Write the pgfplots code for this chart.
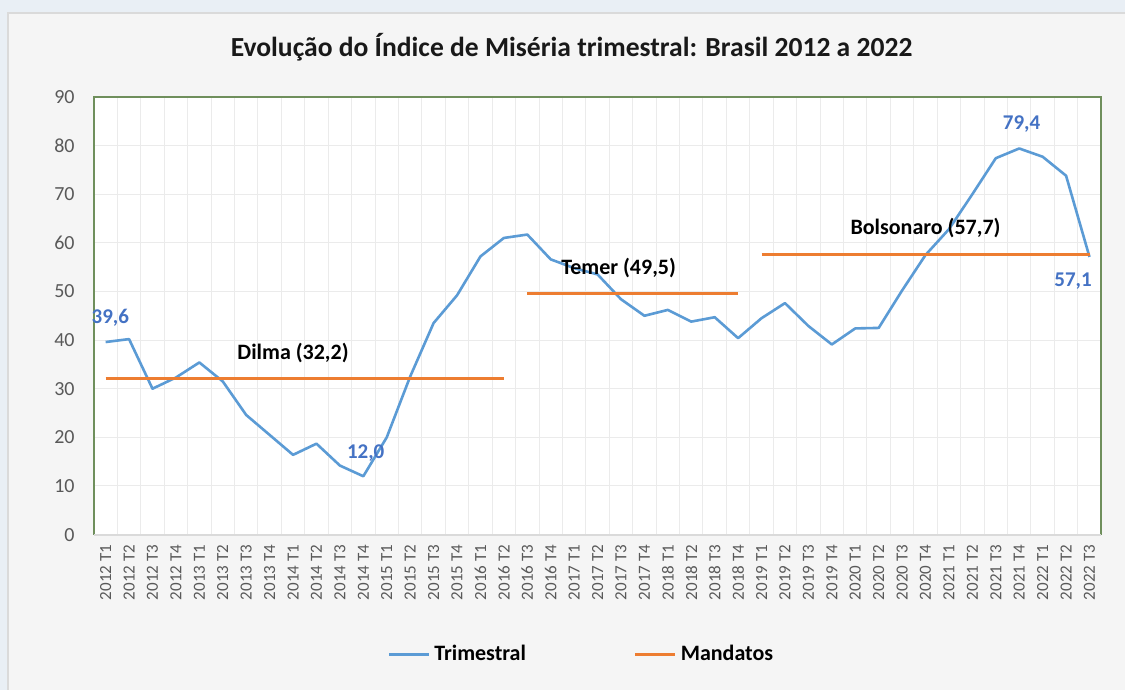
\documentclass[border=0pt]{standalone}
\usepackage{fontspec}
\setmainfont{Carlito}
\usepackage{pgfplots}
\pgfplotsset{compat=1.18}
\definecolor{bgblue}{HTML}{E9EFF5}
\definecolor{bggray}{HTML}{F5F5F5}
\definecolor{bordergray}{HTML}{DADADA}
\definecolor{gridgray}{HTML}{EBEBEB}
\definecolor{ticktext}{HTML}{595959}
\definecolor{framegreen}{HTML}{6F8F5C}
\definecolor{lineblue}{HTML}{5B9BD5}
\definecolor{lineorange}{HTML}{ED7D31}
\definecolor{labelblue}{HTML}{4472C4}
\begin{document}
\begin{tikzpicture}
\fill[bgblue] (0pt,0pt) rectangle (563pt,345pt);
\fill[bggray] (4pt,0pt) rectangle (563pt,338.5pt);
\draw[bordergray, line width=0.8pt] (4pt,0pt) -- (4pt,338.5pt) -- (563pt,338.5pt);
\node[font=\bfseries\fontsize{13.8}{16}\selectfont, text=black!90] at (286pt,321.5pt) {Evolução do Índice de Miséria trimestral: Brasil 2012 a 2022};
\begin{axis}[
  at={(47pt,77.5pt)}, anchor=south west,
  scale only axis, width=504pt, height=219pt,
  xmin=-0.5, xmax=42.5, ymin=0, ymax=90,
  axis background/.style={fill=white},
  axis line style={draw=none},
  xtick={0,...,42},
  xticklabels={2012 T1,2012 T2,2012 T3,2012 T4,2013 T1,2013 T2,2013 T3,2013 T4,2014 T1,2014 T2,2014 T3,2014 T4,2015 T1,2015 T2,2015 T3,2015 T4,2016 T1,2016 T2,2016 T3,2016 T4,2017 T1,2017 T2,2017 T3,2017 T4,2018 T1,2018 T2,2018 T3,2018 T4,2019 T1,2019 T2,2019 T3,2019 T4,2020 T1,2020 T2,2020 T3,2020 T4,2021 T1,2021 T2,2021 T3,2021 T4,2022 T1,2022 T2,2022 T3},
  minor xtick={-0.5,0.5,...,42.5},
  xminorgrids=true,
  minor grid style={gridgray, line width=0.5pt},
  ytick={0,10,...,90},
  ymajorgrids=true,
  major grid style={gridgray, line width=0.5pt},
  tick style={draw=none},
  /pgf/number format/assume math mode=true,
  x tick label style={rotate=90, anchor=east, inner sep=0pt, font=\fontsize{8.5}{10}\selectfont, text=ticktext},
  xticklabel shift=5pt,
  y tick label style={anchor=east, inner sep=0pt, font=\fontsize{10}{12}\selectfont, text=ticktext},
  yticklabel shift=9.5pt,
  legend style={at={(0.485,-0.274)}, anchor=center, draw=none, fill=none, font=\bfseries\fontsize{11}{13}\selectfont, legend columns=2, /tikz/every even column/.append style={column sep=52pt}},
  legend image code/.code={\draw[#1] (0pt,0pt) -- (20pt,0pt);},
  clip=false,
]
\draw[framegreen, line width=1pt] (rel axis cs:0,0) -- (rel axis cs:0,1) -- (rel axis cs:1,1) -- (rel axis cs:1,0);
\draw[bordergray, line width=1pt] (rel axis cs:0,0) -- (rel axis cs:1,0);
\addplot[lineblue, line width=1.3pt, line join=round] coordinates {
(0,39.6) (1,40.2) (2,30.0) (3,32.3) (4,35.4) (5,31.5) (6,24.6) (7,20.5) (8,16.4) (9,18.7)
(10,14.2) (11,12.0) (12,20.0) (13,32.5) (14,43.5) (15,49.2) (16,57.2) (17,61.0) (18,61.7) (19,56.6)
(20,54.8) (21,53.5) (22,48.4) (23,45.0) (24,46.2) (25,43.8) (26,44.7) (27,40.4) (28,44.5) (29,47.6)
(30,42.9) (31,39.1) (32,42.4) (33,42.5) (34,50.2) (35,57.5) (36,62.8) (37,70.0) (38,77.4) (39,79.4)
(40,77.7) (41,73.8) (42,57.1)};
\addlegendentry{Trimestral}
\addplot[lineorange, line width=1.5pt] coordinates {(0,32.2) (17,32.2)};
\addlegendentry{Mandatos}
\addplot[lineorange, line width=1.5pt, forget plot] coordinates {(18,49.5) (27,49.5)};
\addplot[lineorange, line width=1.5pt, forget plot] coordinates {(28,57.7) (42,57.7)};
\node[font=\bfseries\fontsize{11}{13}\selectfont] at (axis cs:8.0,37.4) {Dilma (32,2)};
\node[font=\bfseries\fontsize{11}{13}\selectfont] at (axis cs:21.9,54.9) {Temer (49,5)};
\node[font=\bfseries\fontsize{11}{13}\selectfont] at (axis cs:35.0,63.1) {Bolsonaro (57,7)};
\node[font=\bfseries\fontsize{10.5}{12}\selectfont, text=labelblue] at (axis cs:0.2,44.6) {39,6};
\node[font=\bfseries\fontsize{10.5}{12}\selectfont, text=labelblue] at (axis cs:11.1,16.8) {12,0};
\node[font=\bfseries\fontsize{10.5}{12}\selectfont, text=labelblue] at (axis cs:39.1,84.4) {79,4};
\node[font=\bfseries\fontsize{10.5}{12}\selectfont, text=labelblue] at (axis cs:41.3,52.2) {57,1};
\end{axis}
\end{tikzpicture}
\end{document}
